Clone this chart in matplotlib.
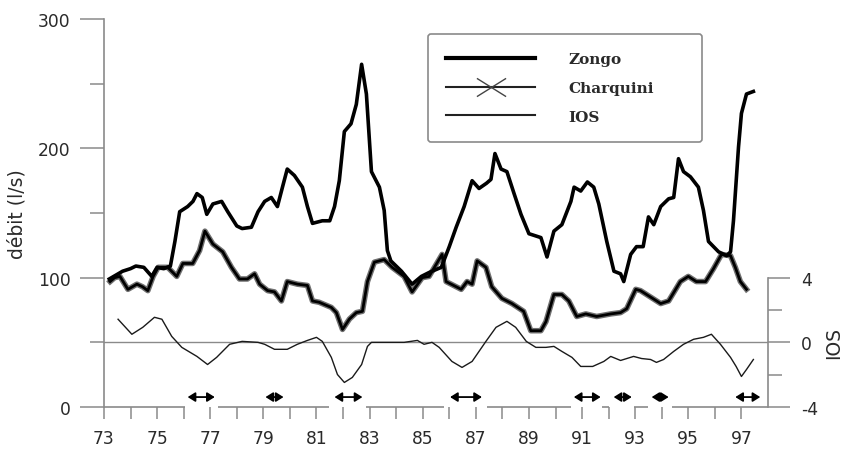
#Debits Zongo / Charquini et IOS, 1973-1997

import numpy as np
import matplotlib
matplotlib.use("Agg")
import matplotlib.pyplot as plt
from matplotlib.lines import Line2D
from matplotlib.path import Path

plt.rcParams['font.family'] = ['DejaVu Sans']
plt.rcParams['axes.unicode_minus'] = False

#Zongo (l/s)
zongo_year = [73.2, 73.45, 73.7, 74.0, 74.2, 74.5, 74.8, 75.0, 75.25, 75.5, 75.67, 75.85,
              76.15, 76.35, 76.5, 76.7, 76.87, 77.1, 77.43, 77.66, 78.0, 78.2, 78.55, 78.8,
              79.05, 79.3, 79.53, 79.72, 79.9, 80.17, 80.47, 80.66, 80.85, 81.22, 81.5, 81.68,
              81.86, 82.05, 82.3, 82.5, 82.7, 82.88, 83.07, 83.37, 83.55, 83.67, 83.8, 84.2,
              84.6, 84.95, 85.24, 85.7, 86.0, 86.26, 86.56, 86.86, 87.12, 87.4, 87.57, 87.72,
              87.95, 88.17, 88.44, 88.7, 89.0, 89.45, 89.68, 89.94, 90.24, 90.58, 90.7, 90.95,
              91.2, 91.44, 91.63, 91.93, 92.2, 92.45, 92.57, 92.83, 93.05, 93.3, 93.5, 93.7,
              93.96, 94.26, 94.45, 94.63, 94.82, 95.08, 95.38, 95.57, 95.76, 96.14, 96.44, 96.59,
              96.7, 96.89, 97.0, 97.19, 97.45]
zongo_q = [99, 102, 105, 107, 109, 108, 101, 108, 107, 109, 128, 151,
           155, 159, 165, 162, 149, 157, 159, 151, 140, 138, 139, 151,
           159, 162, 155, 170, 184, 179, 170, 155, 142, 144, 144, 155,
           175, 213, 219, 234, 265, 242, 182, 170, 152, 121, 113, 105,
           95, 101, 104, 108, 124, 139, 155, 175, 169, 173, 176, 196,
           184, 182, 165, 149, 134, 131, 116, 136, 141, 159, 170, 167,
           174, 170, 157, 128, 105, 103, 97, 118, 124, 124, 147, 141,
           155, 161, 162, 192, 182, 178, 170, 152, 128, 120, 117, 120,
           144, 201, 227, 242, 244]

#Charquini (l/s)
charquini_year = [73.23, 73.4, 73.6, 73.9, 74.24, 74.45, 74.65, 74.85, 75.04, 75.4, 75.74,
                  75.97, 76.34, 76.6, 76.8, 77.1, 77.47, 77.8, 78.1, 78.4, 78.67, 78.86,
                  79.16, 79.42, 79.68, 79.9, 80.28, 80.66, 80.85, 81.1, 81.56, 81.75, 81.98,
                  82.24, 82.5, 82.73, 82.92, 83.18, 83.55, 83.85, 84.3, 84.6, 84.98, 85.24,
                  85.73, 85.88, 86.07, 86.45, 86.67, 86.86, 87.05, 87.38, 87.6, 87.98, 88.36,
                  88.8, 89.07, 89.45, 89.64, 89.94, 90.24, 90.5, 90.8, 91.14, 91.55, 92.08,
                  92.45, 92.68, 93.02, 93.2, 93.58, 93.96, 94.26, 94.7, 95.0, 95.3, 95.65,
                  95.95, 96.25, 96.59, 96.77, 96.96, 97.19]
charquini_q = [97, 100, 101, 91, 95, 93, 90, 101, 108, 108, 101,
               111, 111, 121, 136, 126, 120, 108, 99, 99, 103, 95,
               90, 89, 82, 97, 95, 94, 82, 81, 77, 73, 60,
               68, 73, 74, 97, 112, 114, 108, 101, 89, 100, 101,
               118, 97, 95, 91, 97, 95, 113, 108, 93, 84, 80,
               74, 59, 59, 66, 87, 87, 82, 70, 72, 70, 72,
               73, 76, 91, 90, 85, 80, 82, 97, 101, 97, 97,
               107, 118, 117, 108, 97, 91]

#IOS
ios_year = [73.53, 74.05, 74.46, 74.9, 75.18, 75.55, 75.93, 76.5, 76.9, 77.24, 77.73, 78.2,
            78.8, 79.05, 79.42, 79.9, 80.28, 80.66, 81.0, 81.22, 81.56, 81.79, 82.05, 82.35,
            82.7, 82.92, 83.07, 83.67, 84.3, 84.8, 85.05, 85.35, 85.62, 86.1, 86.48, 86.86,
            87.38, 87.76, 88.17, 88.5, 88.9, 89.26, 89.64, 89.94, 90.24, 90.62, 90.95, 91.4,
            91.82, 92.08, 92.45, 92.94, 93.24, 93.58, 93.8, 94.07, 94.45, 94.82, 95.2, 95.57,
            95.87, 96.21, 96.59, 96.8, 97.0, 97.19, 97.45]
ios_val = [1.43, 0.5, 0.93, 1.55, 1.43, 0.37, -0.31, -0.87, -1.37, -0.93, -0.12, 0.06,
           0.0, -0.12, -0.43, -0.43, -0.12, 0.12, 0.31, 0.06, -0.93, -1.99, -2.48, -2.17,
           -1.37, -0.25, 0.0, 0.0, 0.0, 0.12, -0.12, 0.0, -0.31, -1.18, -1.55, -1.18,
           0.06, 0.93, 1.3, 0.93, 0.06, -0.31, -0.31, -0.25, -0.56, -0.93, -1.49, -1.49,
           -1.18, -0.87, -1.12, -0.87, -1.0, -1.06, -1.24, -1.06, -0.56, -0.12, 0.19, 0.31,
           0.5, -0.12, -0.93, -1.49, -2.11, -1.68, -1.06]

#periodes El Nino (fleches) et trous dans l'axe des x
nino_start = [76.15, 79.08, 81.68, 86.03, 90.69, 92.19, 93.62, 96.77]
nino_end = [77.17, 79.76, 82.73, 87.23, 91.7, 92.87, 94.26, 97.71]
gap_start = [76.04, 81.49, 85.81, 90.58, 92.0, 93.5]
gap_end = [77.28, 82.88, 87.42, 91.74, 92.94, 94.37]

axis_grey = '#8a8a8a'
text_grey = '#2a2a2a'

fig = plt.figure(figsize=(8.42, 4.52), dpi=100)
ax = fig.add_axes([0.1235, 0.0973, 0.7886, 0.8584])
ax2 = ax.twinx()

ax.set_xlim(73, 98)
ax.set_ylim(0, 300)
ax2.set_ylim(-4, 20)

#courbes
ax.plot(zongo_year, zongo_q, color='black', lw=2.6, solid_joinstyle='round', zorder=4)
ax.plot(charquini_year, charquini_q, color='#707070', lw=4.0, zorder=3)
ax.plot(charquini_year, charquini_q, color='black', lw=2.0, zorder=3)
ax2.axhline(0, color=axis_grey, lw=1.0, zorder=1)
ax2.plot(ios_year, ios_val, color='#1a1a1a', lw=1.0, zorder=2)

#fleches
for a, b in zip(nino_start, nino_end):
    ax.annotate('', xy=(b, 7.7), xytext=(a, 7.7),
                arrowprops=dict(arrowstyle='<|-|>,head_length=0.8,head_width=0.5',
                                color='black', lw=1.3, shrinkA=0, shrinkB=0,
                                mutation_scale=5.5))

#axe des x coupe
seg_start = [73] + gap_end
seg_end = gap_start + [98]
ax.hlines([0] * len(seg_start), seg_start, seg_end, color=axis_grey, lw=1.2,
          clip_on=False, zorder=1)

for s in ['top', 'right', 'bottom']:
    ax.spines[s].set_visible(False)
for s in ['top', 'left', 'bottom']:
    ax2.spines[s].set_visible(False)
ax.spines['left'].set_color(axis_grey)
ax.spines['left'].set_linewidth(1.2)
ax2.spines['right'].set_color(axis_grey)
ax2.spines['right'].set_linewidth(1.2)
ax2.spines['right'].set_bounds(-4, 4)

ax.set_xticks(range(73, 98, 2))
ax.set_xticks(range(74, 97, 2), minor=True)
ax.set_xticklabels([str(y) for y in range(73, 98, 2)])
ax.set_yticks([0, 100, 200, 300])
ax.set_yticks([50, 150, 250], minor=True)
ax2.set_yticks([-4, 0, 4])
ax2.set_yticks([-2, 2], minor=True)

ax.tick_params(axis='x', which='both', length=8.6, width=1.1, color=axis_grey,
               labelsize=12.3, labelcolor=text_grey, pad=7)
ax.tick_params(axis='y', which='major', length=17, width=1.1, color=axis_grey,
               labelsize=12.3, labelcolor=text_grey, pad=7)
ax.tick_params(axis='y', which='minor', length=10, width=1.1, color=axis_grey)
ax2.tick_params(axis='y', which='major', length=16, width=1.1, color=axis_grey,
                labelsize=12.3, labelcolor=text_grey, pad=8)
ax2.tick_params(axis='y', which='minor', length=10, width=1.1, color=axis_grey)

ax.set_ylabel('débit (l/s)', fontsize=13.5, color=text_grey, labelpad=8)
ax2.text(1.099, 0, 'IOS', rotation=90, fontsize=13.5, color=text_grey,
         ha='center', va='center', transform=ax2.get_yaxis_transform())

#legende
x_marker = Path([(-1.6, -1), (1.6, 1), (-1.6, 1), (1.6, -1)],
                [Path.MOVETO, Path.LINETO, Path.MOVETO, Path.LINETO])
handles = [Line2D([], [], color='black', lw=3.0),
           Line2D([], [], color='#222222', lw=1.5, marker=x_marker, ms=21,
                  mew=1.0, mec='#444444'),
           Line2D([], [], color='#222222', lw=1.5)]
leg = ax.legend(handles, ['Zongo', 'Charquini', 'IOS'], loc='upper left',
                bbox_to_anchor=(0.488, 0.691, 0.413, 0.27), mode='expand',
                prop={'family': 'DejaVu Serif', 'weight': 'bold', 'size': 11},
                handlelength=5.8, handletextpad=2.2, labelspacing=0.95,
                borderpad=1.2, borderaxespad=0, fancybox=True, framealpha=1,
                edgecolor=axis_grey)
leg.get_frame().set_linewidth(1.2)
for t in leg.get_texts():
    t.set_color(text_grey)

fig.savefig('out.png', dpi=100)
